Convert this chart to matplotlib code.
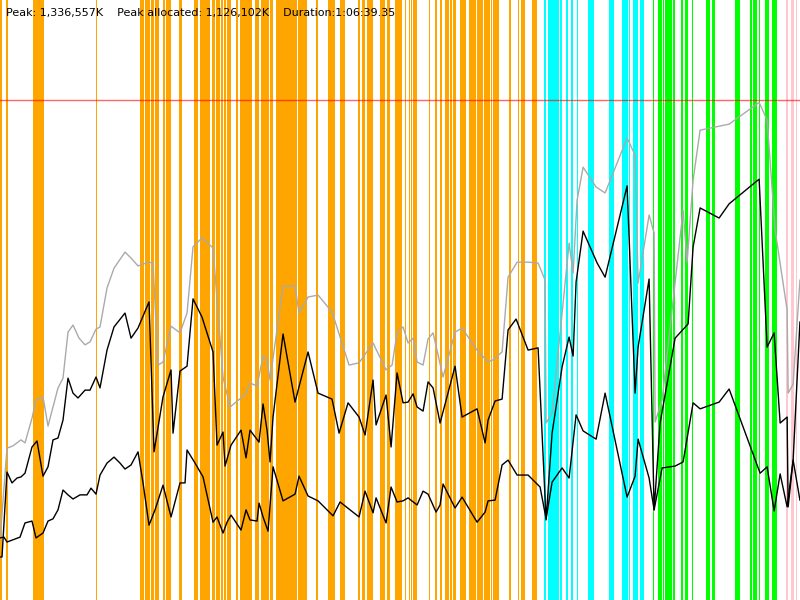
import matplotlib
matplotlib.use("Agg")
import matplotlib.pyplot as plt

# GC log summary: time in seconds, memory in thousands of K
peak_k = 1336557
peak_alloc_k = 1126102
duration_s = 3999.35

# total heap (gray)
heap_t = [0, 35, 65, 105, 125, 160, 180, 215, 240, 290, 315, 340, 365, 395, 425, 450,
          480, 500, 535, 570, 625, 655, 690, 740, 765, 790, 815, 855, 900, 935, 965,
          1010, 1065, 1115, 1150, 1205, 1230, 1250, 1285, 1315, 1335, 1350, 1415,
          1475, 1495, 1540, 1590, 1660, 1745, 1795, 1865, 1930, 1960, 1985, 2015,
          2040, 2065, 2085, 2115, 2140, 2165, 2215, 2275, 2310, 2385, 2440, 2465,
          2510, 2540, 2585, 2640, 2690, 2725, 2730, 2760, 2845, 2865, 2885, 2915,
          2980, 3025, 3135, 3175, 3190, 3245, 3270, 3275, 3310, 3415, 3435, 3465,
          3500, 3645, 3795, 3835, 3875, 3935, 3940, 3965, 3999]
heap_v = [160, 406, 412, 428, 420, 486, 535, 543, 465, 567, 593, 716, 735, 700, 682, 690,
          724, 730, 834, 887, 930, 914, 893, 903, 901, 628, 636, 732, 714, 767, 944,
          968, 941, 596, 516, 540, 553, 580, 572, 652, 642, 588, 839,
          839, 767, 810, 815, 770, 628, 634, 687, 615, 628, 714, 730,
          687, 700, 636, 628, 698, 714, 596, 716, 727, 668, 636, 642,
          663, 863, 903, 903, 901, 855, 473, 500, 954, 874, 1069, 1157,
          1104, 1088, 1235, 1189, 847, 1029, 981, 476, 535, 1042, 903, 1123,
          1256, 1272, 1330, 1283, 989, 775, 553, 577, 855]

# allocated (upper black)
used_t = [0, 10, 35, 60, 85, 105, 125, 160, 185, 215, 240, 265, 290, 315, 340, 365,
          390, 425, 450, 480, 500, 535, 570, 625, 655, 690, 745, 770, 815, 855, 865,
          900, 935, 965, 1010, 1065, 1085, 1115, 1125, 1155, 1205, 1230, 1250, 1295,
          1315, 1335, 1350, 1365, 1415, 1475, 1540, 1590, 1660, 1695, 1740, 1795,
          1825, 1865, 1880, 1930, 1955, 1985, 2015, 2040, 2065, 2085, 2115, 2140,
          2165, 2200, 2275, 2310, 2385, 2425, 2440, 2475, 2510, 2540, 2580, 2640,
          2690, 2730, 2760, 2810, 2845, 2865, 2880, 2915, 2985, 3025, 3135, 3175,
          3190, 3245, 3270, 3300, 3375, 3440, 3465, 3500, 3595, 3645, 3795, 3835,
          3870, 3900, 3935, 3940, 3965, 3999]
used_v = [115, 115, 342, 313, 326, 329, 339, 409, 425, 331, 356, 428, 433, 481, 593, 553,
          540, 561, 561, 596, 567, 668, 730, 767, 700, 727, 797, 396, 543, 615, 446,
          612, 625, 805, 756, 663, 414, 449, 358, 414, 454, 380, 454, 422,
          524, 454, 369, 489, 711, 529, 663, 553, 537, 446, 527, 489,
          441, 588, 468, 548, 409, 607, 527, 529, 551, 516, 505, 583,
          567, 473, 625, 489, 511, 420, 481, 532, 537, 722, 751, 668,
          674, 214, 446, 623, 703, 652, 850, 986, 901, 863, 1107, 553,
          676, 858, 241, 473, 700, 738, 944, 1048, 1021, 1059, 1125, 676,
          714, 473, 489, 249, 374, 743]

# after collection (lower black)
live_t = [0, 20, 35, 60, 100, 125, 160, 180, 215, 240, 265, 290, 315, 340, 365, 400,
          435, 455, 480, 500, 535, 570, 600, 625, 655, 690, 715, 745, 775, 815, 855,
          900, 925, 935, 975, 1015, 1065, 1085, 1115, 1135, 1155, 1205, 1230, 1250,
          1285, 1295, 1315, 1340, 1365, 1415, 1475, 1495, 1540, 1590, 1665, 1700,
          1795, 1825, 1865, 1880, 1930, 1955, 1985, 2015, 2040, 2085, 2115, 2140,
          2180, 2200, 2215, 2275, 2310, 2385, 2425, 2440, 2475, 2510, 2540, 2585,
          2640, 2700, 2730, 2760, 2810, 2845, 2880, 2915, 2980, 3025, 3135, 3175,
          3190, 3245, 3270, 3310, 3375, 3415, 3465, 3500, 3595, 3645, 3800, 3835,
          3870, 3900, 3935, 3965, 3999]
live_v = [166, 168, 155, 160, 168, 206, 211, 166, 179, 211, 217, 241, 294, 281, 270, 281,
          281, 299, 283, 334, 366, 382, 366, 350, 361, 396, 313, 200, 241, 307, 222,
          313, 313, 401, 366, 329, 208, 222, 179, 208, 227, 187, 241, 214,
          211, 259, 222, 184, 356, 265, 283, 331, 278, 265, 225, 262,
          222, 291, 233, 273, 206, 302, 262, 265, 273, 254, 291, 283,
          235, 254, 310, 246, 275, 208, 235, 265, 267, 361, 374, 334,
          334, 302, 217, 315, 353, 326, 495, 452, 430, 553, 275, 331,
          430, 326, 241, 353, 358, 369, 527, 511, 529, 564, 339, 356,
          238, 337, 249, 374, 267]

# GC pauses: (start s, length s)
young_gc = [(0, 10), (30, 10), (165, 10), (175, 45), (480, 7), (700, 20), (725, 25),
            (755, 15), (775, 20), (815, 10), (830, 25), (895, 15), (970, 20),
            (1000, 50), (1060, 15), (1080, 22), (1107, 10), (1120, 8), (1133, 10),
            (1147, 8), (1180, 10), (1200, 18), (1222, 38), (1275, 20), (1305, 38),
            (1350, 15), (1380, 24), (1407, 42), (1452, 33), (1490, 45), (1580, 10),
            (1640, 35), (1700, 25), (1790, 10), (1810, 15), (1835, 30), (1900, 8),
            (1912, 13), (1935, 15), (1975, 25), (2000, 10), (2025, 5), (2045, 5),
            (2055, 5), (2065, 10), (2077, 8), (2145, 6), (2175, 10), (2200, 10),
            (2225, 20), (2252, 8), (2265, 15), (2300, 30), (2345, 35), (2385, 30),
            (2420, 20), (2442, 8), (2455, 5), (2465, 30), (2545, 10), (2590, 6),
            (2605, 20), (2660, 25)]
concurrent_gc = [(2720, 8), (2740, 55), (2800, 8), (2830, 8), (2855, 10), (2885, 5),
                 (2940, 30), (3045, 25), (3110, 30), (3145, 5), (3165, 25), (3200, 20)]
full_gc = [(3265, 5), (3290, 20), (3315, 5), (3325, 22), (3350, 8), (3365, 10),
           (3405, 10), (3425, 15), (3460, 5), (3530, 20), (3560, 15), (3675, 25),
           (3750, 10), (3765, 20), (3795, 5), (3825, 20), (3860, 25)]
other_gc = [(3930, 8), (3955, 15), (3980, 5)]

top = peak_k / 1000 * 1.2

fig = plt.figure(figsize=(8, 6), dpi=100)
ax = fig.add_axes([0, 0, 1, 1])

for spans, col in [(young_gc, '#ffa500'), (concurrent_gc, '#00ffff'),
                   (full_gc, '#00ff00'), (other_gc, '#ffc8d0')]:
    ax.broken_barh(spans, (0, top), facecolors=col, edgecolor='none')

ax.plot(heap_t, heap_v, color='#aaaaaa', linewidth=1)
ax.plot(used_t, used_v, color='black', linewidth=1)
ax.plot(live_t, live_v, color='black', linewidth=1)
ax.axhline(peak_k / 1000, color='red', alpha=0.6, linewidth=1)

ax.set_xlim(0, duration_s)
ax.set_ylim(0, top)
ax.axis('off')

ax.text(6 / 800, 1 - 13 / 600,
        'Peak: 1,336,557K    Peak allocated: 1,126,102K    Duration:1:06:39.35',
        transform=ax.transAxes, fontsize=8, va='center', ha='left', color='black')

fig.savefig('out.png', dpi=100)
